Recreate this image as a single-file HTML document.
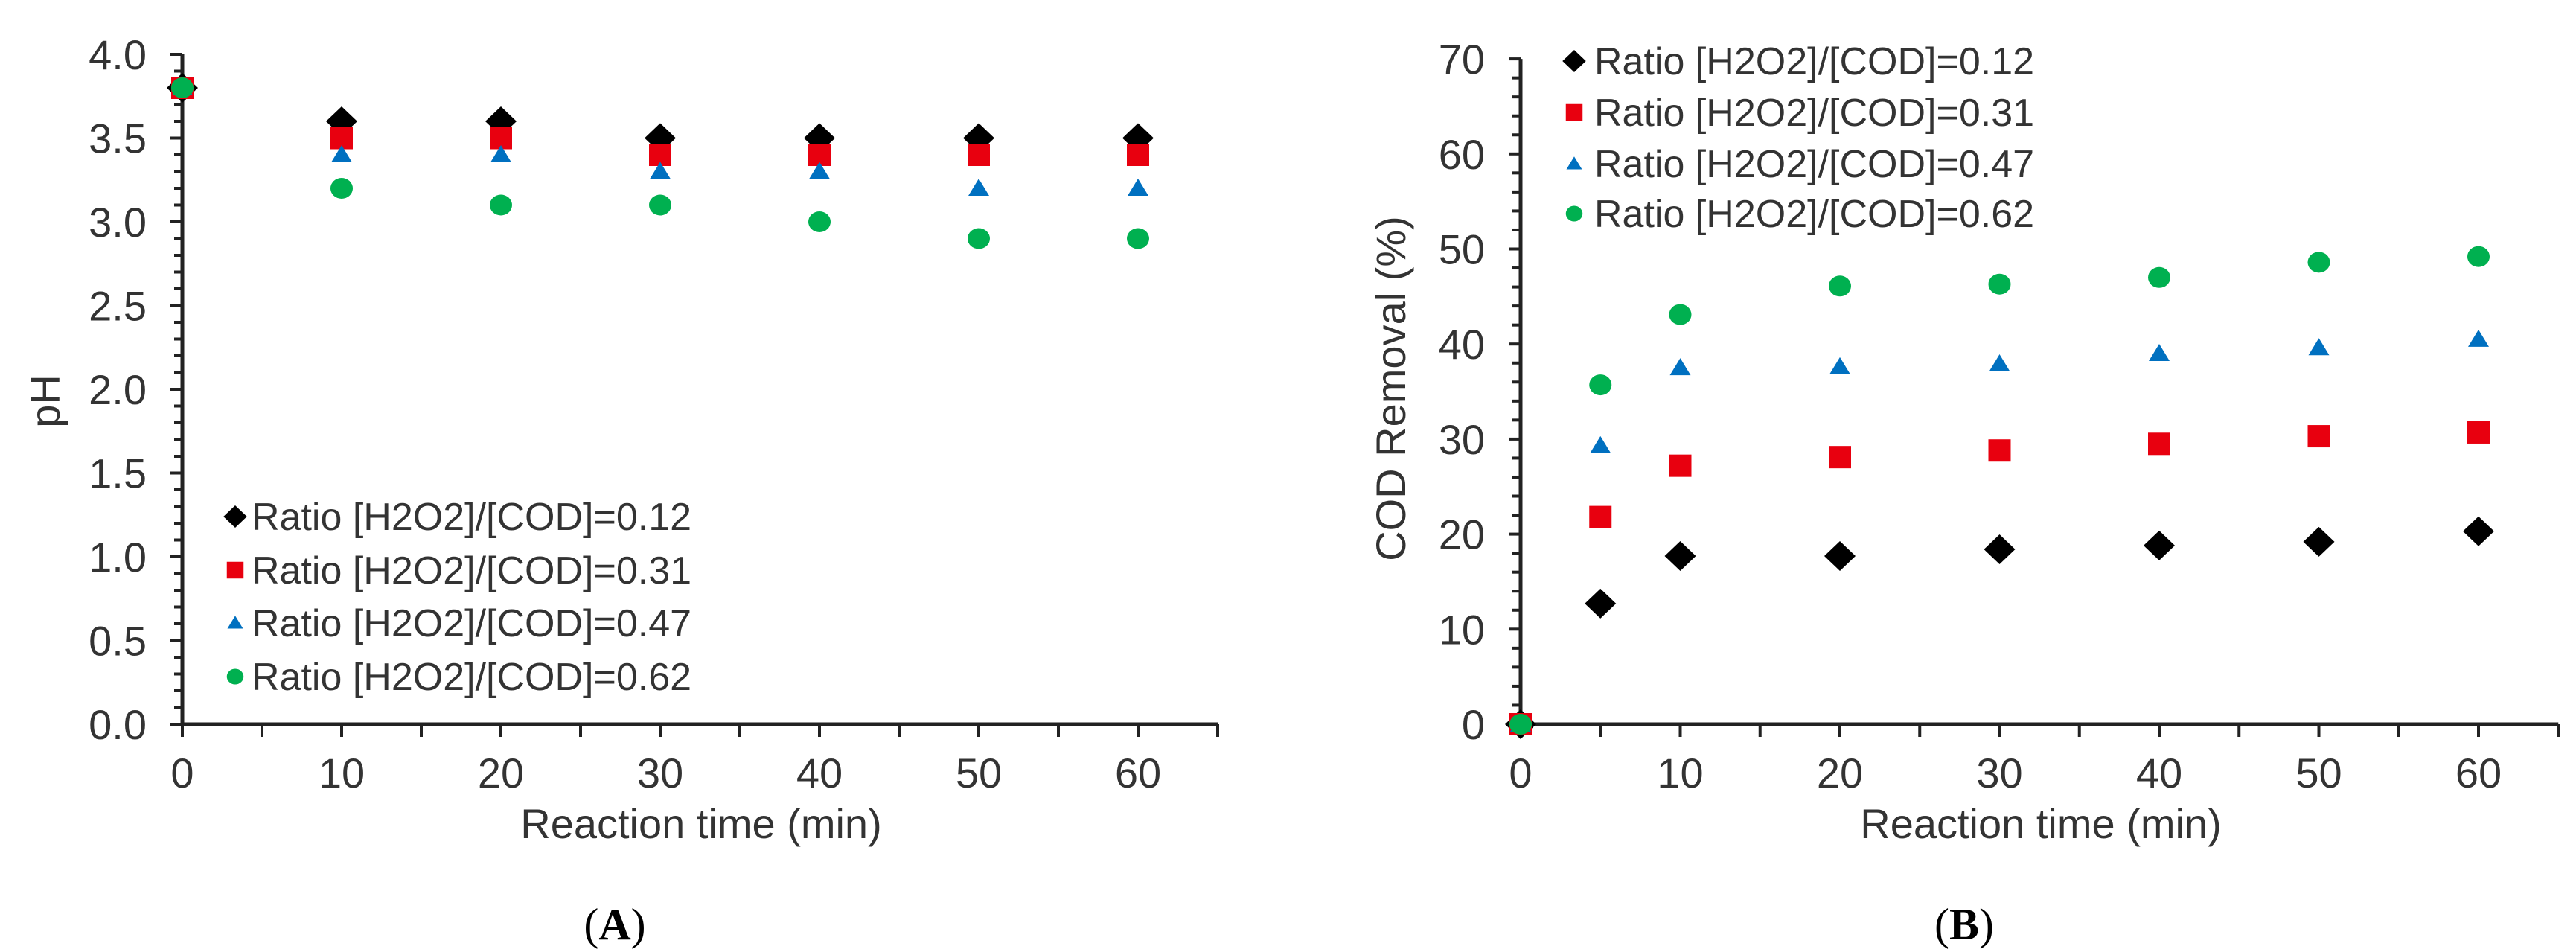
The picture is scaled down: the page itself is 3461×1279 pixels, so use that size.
<!DOCTYPE html>
<html><head><meta charset="utf-8"><style>
html,body{margin:0;padding:0;background:#fff;}
svg{display:block;font-family:"Liberation Sans",Arial,sans-serif;}
</style></head><body>
<svg id="fig" width="3461" height="1279" viewBox="0 0 3461 1279" xmlns="http://www.w3.org/2000/svg"></svg>
<script>
const timesA = [0,10,20,30,40,50,60];
const phR012 = [3.8,3.6,3.6,3.5,3.5,3.5,3.5];
const phR031 = [3.8,3.5,3.5,3.4,3.4,3.4,3.4];
const phR047 = [3.8,3.4,3.4,3.3,3.3,3.2,3.2];
const phR062 = [3.8,3.2,3.1,3.1,3.0,2.9,2.9];
const yTicksA = ["0.0","0.5","1.0","1.5","2.0","2.5","3.0","3.5","4.0"];
const timesB = [0,5,10,20,30,40,50,60];
const codR012 = [0,12.7,17.7,17.7,18.4,18.8,19.2,20.3];
const codR031 = [0,21.8,27.2,28.1,28.8,29.5,30.3,30.7];
const codR047 = [0,29.3,37.5,37.6,37.9,39.0,39.6,40.5];
const codR062 = [0,35.7,43.1,46.1,46.3,47.0,48.6,49.2];
const yTicksB = ["0","10","20","30","40","50","60","70"];
const xTicks = ["0","10","20","30","40","50","60"];
const seriesLabels = ["Ratio [H2O2]/[COD]=0.12","Ratio [H2O2]/[COD]=0.31","Ratio [H2O2]/[COD]=0.47","Ratio [H2O2]/[COD]=0.62"];

const NS="http://www.w3.org/2000/svg";
const svg=document.getElementById('fig');
function mk(tag,attrs,parent){const e=document.createElementNS(NS,tag);for(const k in attrs)e.setAttribute(k,attrs[k]);(parent||svg).appendChild(e);return e;}
const styles=[{shape:'diamond',color:'#000000'},{shape:'square',color:'#e8000f'},{shape:'triangle',color:'#0070c0'},{shape:'circle',color:'#00b050'}];
const shapeNames=['diamond','square','triangle','circle'];
function marker(g,shape,color,x,y,s){
  if(shape==='diamond')return mk('polygon',{points:`${x},${y-20*s} ${x+21*s},${y} ${x},${y+20*s} ${x-21*s},${y}`,fill:color},g);
  if(shape==='square')return mk('rect',{x:x-15*s,y:y-15*s,width:30*s,height:30*s,fill:color},g);
  if(shape==='triangle')return mk('polygon',{points:`${x},${y-13*s} ${x+14*s},${y+10*s} ${x-14*s},${y+10*s}`,fill:color},g);
  return mk('ellipse',{cx:x,cy:y,rx:15*s,ry:14*s,fill:color},g);
}
function chart(cfg){
  const g=mk('g',{});
  
  
  const X=v=>cfg.x0+v*cfg.xs, Y=v=>cfg.y0-v*cfg.ys;
  const ax=mk('line',{x1:cfg.x0,y1:cfg.y0,x2:X(65),y2:cfg.y0,stroke:'#222','stroke-width':5},g);
  
  
  const ay=mk('line',{x1:cfg.x0,y1:cfg.y0+2,x2:cfg.x0,y2:Y(cfg.ymax),stroke:'#222','stroke-width':5},g);
  
  
  for(let t=0;t<=65;t+=5){mk('line',{x1:X(t),y1:cfg.y0,x2:X(t),y2:cfg.y0+17,stroke:'#222','stroke-width':4},g);}
  const nMinor=Math.round(cfg.ymax/cfg.minor);
  for(let i=0;i<=nMinor;i++){const v=i*cfg.minor;const major=Math.abs(v/cfg.major-Math.round(v/cfg.major))<1e-6;
    mk('line',{x1:cfg.x0-(major?16:11),y1:Y(v),x2:cfg.x0,y2:Y(v),stroke:'#222','stroke-width':4},g);}
  cfg.yTicks.forEach((lab,i)=>{const t=mk('text',{x:cfg.x0-48,y:Y(i*cfg.major)+20,'font-size':56,'text-anchor':'end',fill:'#333'},g);t.textContent=lab;
    
    });
  xTicks.forEach((lab,i)=>{const t=mk('text',{x:X(i*10),y:cfg.y0+85,'font-size':56,'text-anchor':'middle',fill:'#333'},g);t.textContent=lab;
    
    });
  const xt=mk('text',{x:cfg.xtitleX,y:1126,'font-size':56,'text-anchor':'middle',fill:'#333'},g);xt.textContent='Reaction time (min)';
  
  
  const yt=mk('text',{x:0,y:0,'font-size':56,'text-anchor':'middle',fill:'#333',transform:`translate(${cfg.ytitleX},${cfg.ytitleY}) rotate(-90)`},g);yt.textContent=cfg.ytitle;
  
  
  for(let si=0;si<cfg.series.length;si++){
    const vals=cfg.series[si];
    const sg=mk('g',{},g);
    
    
    vals.forEach((v,i)=>{const m=marker(sg,styles[si].shape,styles[si].color,X(cfg.times[i]),Y(v),1);
      
      });
  }
  const lg=mk('g',{},g);
  
  
  seriesLabels.forEach((lab,i)=>{const y=cfg.legY[i];
    const e=mk('g',{},lg);
    
    
    marker(e,styles[i].shape,styles[i].color,cfg.legMX,y,0.75);
    const t=mk('text',{x:cfg.legTX,y:y+18,'font-size':52,fill:'#333'},e);t.textContent=lab;});
  const cap=mk('text',{x:cfg.capX,y:1262,'font-size':60,'text-anchor':'middle','font-family':'Liberation Serif, serif',fill:'#000'},g);
  cap.innerHTML='(<tspan font-weight="bold">'+cfg.cap+'</tspan>)';
  
  
}
chart({name:'chart-a-ph',x0:245,y0:973,xs:21.4,ys:225,ymax:4,major:0.5,minor:0.1,yTicks:yTicksA,
  times:timesA,series:[phR012,phR031,phR047,phR062],
  xtitleX:942,ytitleX:80,ytitleY:539,ytitle:'pH',legY:[694,766,837,909],legMX:316,legTX:338,capX:826,cap:'A'});
chart({name:'chart-b-cod',x0:2043,y0:973,xs:21.45,ys:12.77,ymax:70,major:10,minor:2,yTicks:yTicksB,
  times:timesB,series:[codR012,codR031,codR047,codR062],
  xtitleX:2742,ytitleX:1888,ytitleY:522,ytitle:'COD Removal (%)',legY:[82,151,220,287],legMX:2115,legTX:2142,capX:2639,cap:'B'});
</script>
</body></html>
